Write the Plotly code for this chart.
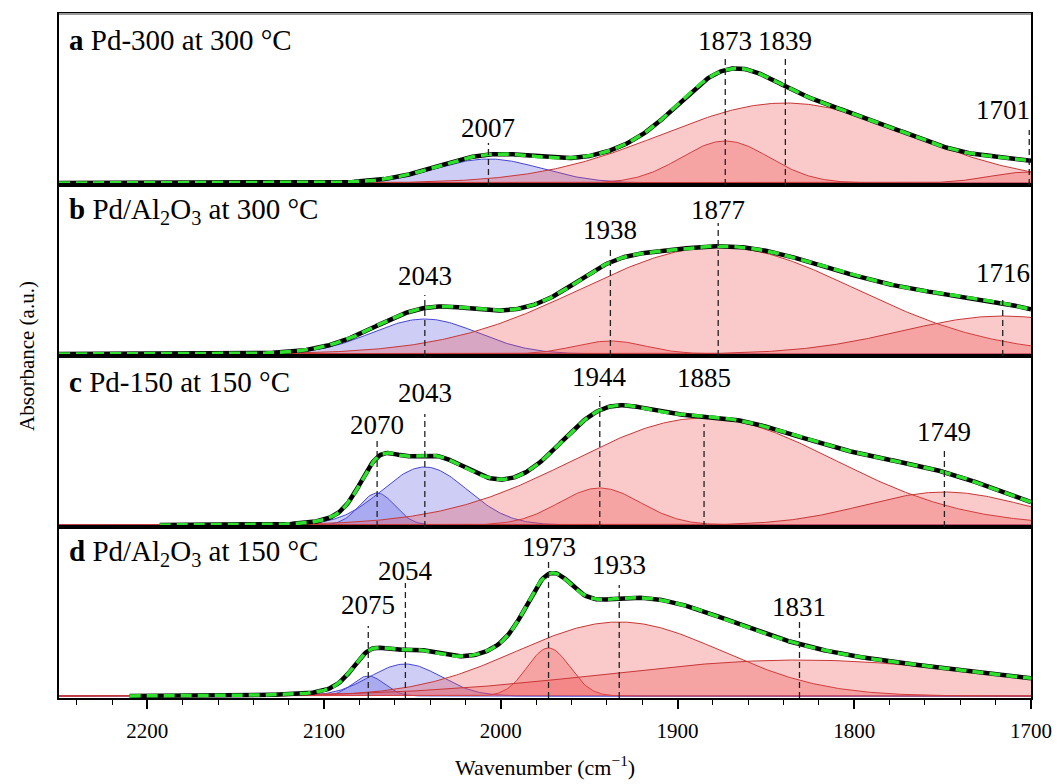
import numpy as np
import plotly.graph_objects as go
from plotly.subplots import make_subplots

# ---------------- data ----------------
panel_letters = ["a", "b", "c", "d"]
panel_samples = [
    "Pd-300 at 300 °C",
    "Pd/Al<sub>2</sub>O<sub>3</sub> at 300 °C",
    "Pd-150 at 150 °C",
    "Pd/Al<sub>2</sub>O<sub>3</sub> at 150 °C",
]
# wavenumber where the measured spectrum starts in each panel (cm-1)
spectrum_start = [2250, 2250, 2193, 2210]

# fitted Gaussian components: centre (cm-1), height (a.u.), sigma (cm-1), band type
peak_centers = [
    [2007, 1873, 1839, 1701],
    [2043, 1938, 1877, 1716],
    [2070, 2043, 1944, 1885, 1749],
    [2075, 2054, 1973, 1933, 1831],
]
peak_heights = [
    [0.24, 0.42, 0.80, 0.11],
    [0.35, 0.13, 1.07, 0.38],
    [0.32, 0.58, 0.37, 1.07, 0.33],
    [0.20, 0.32, 0.48, 0.74, 0.36],
]
peak_sigmas = [
    [30, 25, 70, 22],
    [30, 20, 78, 57],
    [10, 24, 23, 74, 45],
    [9, 20, 12, 58, 110],
]
peak_types = [
    ["linear", "bridged", "bridged", "bridged"],
    ["linear", "bridged", "bridged", "bridged"],
    ["linear", "linear", "bridged", "bridged", "bridged"],
    ["linear", "linear", "bridged", "bridged", "bridged"],
]
x_tick_values = [2200, 2100, 2000, 1900, 1800, 1700]

# ---------------- layout / style settings ----------------
# top of the dashed marker line and centre of the label (a.u. above baseline)
marker_tops = [
    [0.40, 1.26, 1.26, 0.53],
    [0.59, 1.06, 1.31, 0.57],
    [0.86, 1.11, 1.29, 1.01, 0.74],
    [0.70, 1.13, 1.34, 1.11, 0.76],
]
label_centers = [
    [0.555, 1.42, 1.42, 0.73],
    [0.78, 1.24, 1.44, 0.81],
    [1.00, 1.32, 1.48, 1.47, 0.93],
    [0.91, 1.25, 1.49, 1.31, 0.89],
]
Y_MIN, Y_MAX = -0.02, 1.69
fill_colors = {"linear": "rgba(90,90,225,0.30)", "bridged": "rgba(240,75,75,0.30)"}
edge_colors = {"linear": "rgb(70,70,210)", "bridged": "rgb(200,55,55)"}
FONT = "'Liberation Serif', 'Times New Roman', Times, 'DejaVu Serif', serif"

wn = np.arange(2250.0, 1699.0, -1.0)


def gauss(x, c, h, s):
    return h * np.exp(-((x - c) ** 2) / (2.0 * s ** 2))


fig = make_subplots(rows=4, cols=1, shared_xaxes=True, vertical_spacing=0)
shapes = []
annotations = []

for i in range(4):
    row = i + 1
    xref = "x" if row == 1 else f"x{row}"
    yref = "y" if row == 1 else f"y{row}"
    total = np.zeros_like(wn)
    for c, h, s, t in zip(peak_centers[i], peak_heights[i], peak_sigmas[i], peak_types[i]):
        comp = gauss(wn, c, h, s)
        total += comp
        fig.add_trace(
            go.Scatter(
                x=wn, y=comp, mode="lines", fill="tozeroy",
                fillcolor=fill_colors[t],
                line=dict(color=edge_colors[t], width=1),
                hoverinfo="skip", showlegend=False,
            ),
            row=row, col=1,
        )
    mask = wn <= spectrum_start[i]
    # measured spectrum
    fig.add_trace(
        go.Scatter(x=wn[mask], y=total[mask], mode="lines",
                   line=dict(color="black", width=4.5), showlegend=False),
        row=row, col=1,
    )
    # cumulative fit
    fig.add_trace(
        go.Scatter(x=wn[mask], y=total[mask], mode="lines",
                   line=dict(color="rgb(45,225,45)", width=3.5, dash="11px,6px"),
                   showlegend=False),
        row=row, col=1,
    )
    for c, top, lab in zip(peak_centers[i], marker_tops[i], label_centers[i]):
        shapes.append(dict(type="line", xref=xref, yref=yref, x0=c, x1=c,
                           y0=Y_MIN, y1=top,
                           line=dict(color="#222", width=1.3, dash="6px,4px")))
        at_edge = c <= 1705
        annotations.append(dict(
            x=c, y=lab, xref=xref, yref=yref, text=str(c), showarrow=False,
            xanchor="right" if at_edge else "center", yanchor="middle",
            xshift=3 if at_edge else 0,
            font=dict(family=FONT, size=27, color="black"),
        ))
    annotations.append(dict(
        x=0.008, y=1 - 26 / 171, xref="paper", yref=f"{yref} domain",
        text=f"<b>{panel_letters[i]}</b> {panel_samples[i]}",
        showarrow=False, xanchor="left", yanchor="middle",
        font=dict(family=FONT, size=29, color="black"),
    ))

# lighter top edge of the frame
shapes.append(dict(type="line", xref="paper", yref="paper", x0=0, x1=1, y0=1, y1=1,
                   line=dict(color="#999", width=2), layer="above"))

annotations.append(dict(
    x=0.5, y=-0.1, xref="paper", yref="paper",
    text="Wavenumber (cm<sup>−1</sup>)", showarrow=False,
    xanchor="center", yanchor="middle",
    font=dict(family=FONT, size=22, color="black"),
))
annotations.append(dict(
    x=-0.033, y=0.5, xref="paper", yref="paper",
    text="Absorbance (a.u.)", showarrow=False, textangle=-90,
    xanchor="center", yanchor="middle",
    font=dict(family=FONT, size=21, color="black"),
))

for row in range(1, 5):
    bottom = row == 4
    fig.update_xaxes(
        range=[2250, 1700], autorange=False,
        showline=True, mirror=True, linecolor="black", linewidth=1.5,
        showgrid=False, zeroline=False,
        ticks="outside" if bottom else "", showticklabels=bottom,
        tickvals=x_tick_values, ticklen=9, tickwidth=1.5, tickcolor="black",
        ticklabelstandoff=4,
        tickfont=dict(family=FONT, size=21, color="black"),
        minor=dict(ticks="outside" if bottom else "", dtick=20, tick0=2200,
                   ticklen=5, tickwidth=1.2, tickcolor="black"),
        row=row, col=1,
    )
    fig.update_yaxes(
        range=[Y_MIN, Y_MAX], autorange=False,
        showline=True, mirror=True, linecolor="black", linewidth=1.5,
        showgrid=False, zeroline=False, ticks="", showticklabels=False,
        row=row, col=1,
    )

fig.update_layout(
    width=1064, height=784,
    margin=dict(l=59, r=27, t=14, b=86),
    paper_bgcolor="white", plot_bgcolor="white",
    font=dict(family=FONT, color="black"),
    showlegend=False,
    shapes=shapes, annotations=annotations,
)

fig.write_html("out.html")
